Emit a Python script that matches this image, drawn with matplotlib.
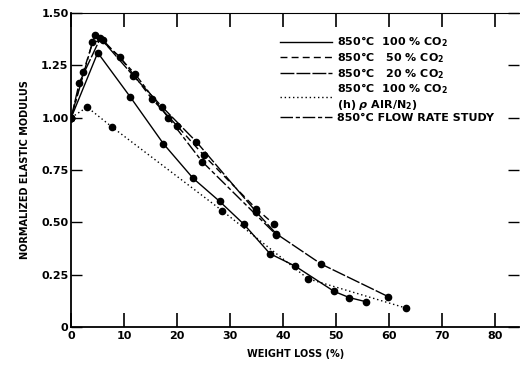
import matplotlib
matplotlib.use("Agg")
import matplotlib.pyplot as plt
from matplotlib.lines import Line2D

# 850C 100% CO2
co2_100_x = [0, 5.0, 11.1, 17.4, 23.0, 28.0, 32.6, 37.5, 42.3, 49.6, 52.5, 55.7]
co2_100_y = [1.00, 1.31, 1.10, 0.875, 0.71, 0.60, 0.49, 0.35, 0.29, 0.17, 0.14, 0.12]
# 850C 50% CO2
co2_50_x = [0, 2.3, 4.5, 9.2, 15.2, 20.0, 25.0, 34.9, 38.3]
co2_50_y = [1.00, 1.22, 1.395, 1.29, 1.09, 0.96, 0.82, 0.565, 0.49]
# 850C 20% CO2
co2_20_x = [0, 1.5, 5.5, 11.7, 17.2, 23.6, 34.9, 38.7, 47.2, 59.8]
co2_20_y = [1.00, 1.165, 1.38, 1.20, 1.05, 0.885, 0.55, 0.445, 0.30, 0.145]
# 850C 100% CO2 (h) air/N2
air_x = [0, 3.0, 7.7, 28.5, 44.7, 63.2]
air_y = [1.00, 1.05, 0.955, 0.555, 0.23, 0.09]
# 850C flow rate study
flow_x = [0, 4.0, 6.0, 12.0, 18.3, 24.7, 38.7]
flow_y = [1.00, 1.36, 1.37, 1.21, 1.00, 0.79, 0.44]

labels = ["850°C  100 % CO$_2$", "850°C   50 % CO$_2$", "850°C   20 % CO$_2$",
          "850°C  100 % CO$_2$\n(h) $\\rho$ AIR/N$_2$)", "850°C FLOW RATE STUDY"]
styles = ["-", (0, (5, 3)), (0, (10, 1.5)), (0, (1, 2)), (0, (9, 2, 3, 2))]

plt.rcParams["font.family"] = "DejaVu Sans"
plt.rcParams["font.weight"] = "bold"
plt.rcParams["axes.labelweight"] = "bold"

fig = plt.figure(figsize=(5.2, 3.69), dpi=100)
ax = fig.add_axes([0.137, 0.114, 0.862, 0.851])

series = [(co2_100_x, co2_100_y), (co2_50_x, co2_50_y), (co2_20_x, co2_20_y),
          (air_x, air_y), (flow_x, flow_y)]
for (xs, ys), ls in zip(series, styles):
    ax.plot(xs, ys, color="black", linestyle=ls, linewidth=1.0,
            marker="o", markersize=4.5)

ax.set_xlim(0, 84.6)
ax.set_ylim(0, 1.5)
ax.set_xticks([0, 10, 20, 30, 40, 50, 60, 70, 80])
ax.set_yticks([0, 0.25, 0.5, 0.75, 1.0, 1.25, 1.5])
ax.set_yticklabels(["0", "0.25", "0.50", "0.75", "1.00", "1.25", "1.50"])
ax.tick_params(axis="x", direction="in", length=10, width=1.2, top=True,
               labelsize=8, pad=3)
ax.tick_params(axis="y", direction="in", length=8, width=1.0, right=True,
               labelsize=8, pad=2)
ax.spines["right"].set_visible(False)
for s in ["left", "bottom"]:
    ax.spines[s].set_linewidth(1.3)
ax.spines["top"].set_linewidth(0.8)

ax.set_xlabel("WEIGHT LOSS (%)", fontsize=7, labelpad=6)
ax.set_ylabel("NORMALIZED ELASTIC MODULUS", fontsize=7, labelpad=8)

handles = [Line2D([], [], color="black", linestyle=ls, linewidth=1.0) for ls in styles]
ax.legend(handles, labels, loc="upper left", bbox_to_anchor=(0.455, 0.945),
          frameon=False, fontsize=8, handlelength=4.7, handletextpad=0.5,
          labelspacing=0.08, borderaxespad=0)

fig.savefig("out.png", dpi=100)
